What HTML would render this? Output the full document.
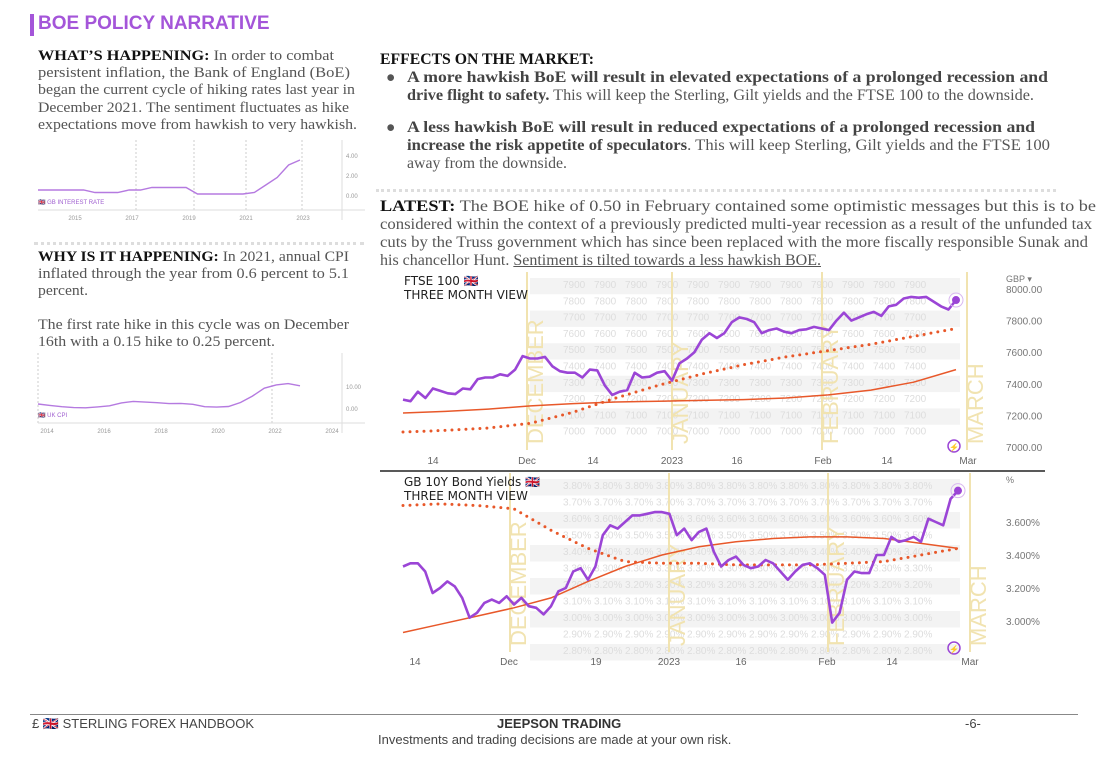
<!DOCTYPE html>
<html><head><meta charset="utf-8"><style>
body{margin:0;width:1108px;height:776px;background:#fff;position:relative;overflow:hidden;font-family:"Liberation Serif",serif;color:#555}
.abs{position:absolute}
.p{font-size:15px;line-height:17.2px;color:#555;white-space:nowrap;font-family:"Liberation Serif",serif}
.r{font-size:15.5px;line-height:18.1px}
.p b{color:#111}
.ln{display:block;width:max-content;transform-origin:0 0}
.dots{position:absolute;height:0;border-top:3px dotted #ddd}
.sans{font-family:"Liberation Sans",sans-serif}
</style></head><body>
<div class="abs" style="left:30px;top:14px;width:4px;height:22px;background:#a455d9"></div>
<div class="abs sans" style="left:38px;top:13px;font-size:19px;font-weight:bold;color:#a455d9">BOE POLICY NARRATIVE</div>

<div class="abs p" style="left:38px;top:48px">
<span class="ln" data-w="296"><b>WHAT’S HAPPENING:</b> In order to combat</span>
<span class="ln" data-w="312">persistent inflation, the Bank of England (BoE)</span>
<span class="ln" data-w="317">began the current cycle of hiking rates last year in</span>
<span class="ln" data-w="311">December 2021. The sentiment fluctuates as hike</span>
<span class="ln" data-w="319">expectations move from hawkish to very hawkish.</span></div>

<svg class="abs" style="left:30px;top:140px" width="340" height="82" id="mini1"></svg>
<div class="dots" style="left:34px;top:242px;width:330px"></div>

<div class="abs p" style="left:38px;top:249px">
<span class="ln" data-w="311"><b>WHY IS IT HAPPENING:</b> In 2021, annual CPI</span>
<span class="ln" data-w="311">inflated through the year from 0.6 percent to 5.1</span>
<span class="ln" data-w="50">percent.</span></div>
<div class="abs p" style="left:38px;top:317px">
<span class="ln" data-w="311">The first rate hike in this cycle was on December</span>
<span class="ln" data-w="237">16th with a 0.15 hike to 0.25 percent.</span></div>
<svg class="abs" style="left:30px;top:353px" width="340" height="82" id="mini2"></svg>

<div class="abs p r" style="left:380px;top:51px"><span class="ln" data-w="214"><b>EFFECTS ON THE MARKET:</b></span></div>
<div class="abs p r" style="left:386px;top:69px">●</div>
<div class="abs p r" style="left:407px;top:69px">
<span class="ln" data-w="641"><b style="color:#444">A more hawkish BoE will result in elevated expectations of a prolonged recession and</b></span>
<span class="ln" data-w="627"><b style="color:#444">drive flight to safety.</b> This will keep the Sterling, Gilt yields and the FTSE 100 to the downside.</span></div>
<div class="abs p r" style="left:386px;top:119px">●</div>
<div class="abs p r" style="left:407px;top:119px">
<span class="ln" data-w="628"><b style="color:#444">A less hawkish BoE will result in reduced expectations of a prolonged recession and</b></span>
<span class="ln" data-w="643"><b style="color:#444">increase the risk appetite of speculators</b>. This will keep Sterling, Gilt yields and the FTSE 100</span>
<span class="ln" data-w="160">away from the downside.</span></div>
<div class="dots" style="left:376px;top:189px;width:680px"></div>
<div class="abs p r" style="left:380px;top:198px">
<span class="ln" data-w="716"><b>LATEST:</b> The BOE hike of 0.50 in February contained some optimistic messages but this is to be</span>
<span class="ln" data-w="712">considered within the context of a previously predicted multi-year recession as a result of the unfunded tax</span>
<span class="ln" data-w="708">cuts by the Truss government which has since been replaced with the more fiscally responsible Sunak and</span>
<span class="ln" data-w="441">his chancellor Hunt. <u>Sentiment is tilted towards a less hawkish BOE.</u></span></div>

<svg class="abs" style="left:0;top:0" width="1108" height="776" id="big"></svg>

<div class="abs" style="left:30px;top:714px;width:1048px;height:1px;background:#888"></div>
<div class="abs sans" style="left:32px;top:716px;font-size:13px;color:#444">£ 🇬🇧 STERLING FOREX HANDBOOK</div>
<div class="abs sans" style="left:497px;top:716px;font-size:13px;font-weight:bold;color:#333">JEEPSON TRADING</div>
<div class="abs sans" style="left:965px;top:716px;font-size:13px;color:#444">-6-</div>
<div class="abs sans" style="left:378px;top:732px;font-size:13px;color:#444">Investments and trading decisions are made at your own risk.</div>

<script>
// FTSE 100 data
const ftseValues=[7300,7290,7350,7310,7370,7355,7340,7335,7370,7365,7430,7440,7440,7460,7450,7490,7575,7560,7560,7570,7510,7480,7470,7470,7440,7490,7485,7390,7330,7350,7360,7470,7440,7445,7470,7480,7420,7530,7560,7600,7680,7720,7690,7720,7790,7820,7810,7790,7720,7740,7750,7730,7720,7740,7745,7760,7750,7740,7800,7850,7800,7820,7840,7855,7830,7890,7900,7940,7950,7945,7950,7920,7890,7870,7930];
const ftseMa=[7215,7225,7240,7260,7275,7285,7290,7295,7300,7310,7330,7360,7410,7490];
const ftseDotted=[7095,7105,7120,7150,7220,7310,7390,7460,7520,7570,7610,7650,7700,7750];
const ftseTicks=[7000,7200,7400,7600,7800,8000];
const ftseXLabels=["14","Dec","14","2023","16","Feb","14","Mar"];
// Bond yield data
const bondValues=[3.33,3.35,3.35,3.30,3.17,3.20,3.24,3.21,3.14,3.02,3.05,3.11,3.13,3.11,3.15,3.10,3.14,3.09,3.08,3.04,3.09,3.18,3.20,3.30,3.32,3.25,3.33,3.52,3.58,3.56,3.60,3.64,3.64,3.65,3.66,3.66,3.65,3.52,3.56,3.49,3.54,3.56,3.42,3.33,3.37,3.39,3.34,3.32,3.33,3.37,3.35,3.30,3.25,3.30,3.34,3.35,3.32,3.28,2.99,3.05,3.25,3.30,3.29,3.29,3.40,3.40,3.51,3.48,3.49,3.51,3.48,3.62,3.60,3.58,3.74,3.79];
const bondMa=[2.93,2.98,3.03,3.08,3.14,3.24,3.33,3.40,3.45,3.48,3.50,3.51,3.51,3.50,3.47,3.44];
const bondDotted=[3.70,3.71,3.70,3.68,3.55,3.44,3.36,3.35,3.35,3.34,3.34,3.34,3.35,3.36,3.40,3.44];
const bondTicks=[3.0,3.2,3.4,3.6];
const bondXLabels=["14","Dec","19","2023","16","Feb","14","Mar"];
// mini charts
const rateValues=[0.5,0.5,0.5,0.5,0.5,0.25,0.25,0.25,0.5,0.5,0.75,0.75,0.75,0.75,0.1,0.1,0.1,0.1,0.1,0.25,1.0,1.75,3.0,3.5];
const cpiValues=[1.8,1.2,0.6,0.2,0.1,0.5,1.0,2.3,3.0,2.7,2.4,2.0,2.1,1.7,0.6,0.4,0.7,2.5,5.4,9.0,10.5,11.1,10.1];

// fit text lines to measured widths
document.querySelectorAll('.ln').forEach(el=>{const w=el.getBoundingClientRect().width;const t=+el.dataset.w;if(w>0)el.style.transform='scaleX('+(t/w).toFixed(4)+')';});

const NS="http://www.w3.org/2000/svg";
function mk(parent,tag,attrs){const e=document.createElementNS(NS,tag);for(const k in attrs)e.setAttribute(k,attrs[k]);parent.appendChild(e);return e;}
function txt(parent,x,y,s,attrs){const t=mk(parent,'text',Object.assign({x:x,y:y},attrs));t.textContent=s;return t;}
const big=document.getElementById('big');

function drawPanel(cfg){
  const g=mk(big,'g',{});
  
  
  const y=cfg.y;
  for(let k=0;k<cfg.stripeN;k+=2){mk(g,'rect',{x:530,y:cfg.top+6+k*cfg.stripeH,width:430,height:cfg.stripeH,fill:'#f3f3f3'});}
  for(let k=0;k<cfg.stripeN;k++){for(let c=0;c<12;c++){txt(g,563+c*31,cfg.top+16+k*cfg.stripeH,cfg.gridLbl[k],{'font-size':10,fill:'#ddd','font-family':'Liberation Sans,sans-serif'});}}
  cfg.months.forEach(m=>{mk(g,'line',{x1:m[0],x2:m[0],y1:cfg.top,y2:cfg.bot,stroke:'#f1e3b0','stroke-width':2});
    txt(g,0,0,m[1],{'font-size':22,fill:'#f1e3b0','font-family':'Liberation Sans,sans-serif',transform:`translate(${m[0]+16},${cfg.bot-6}) rotate(-90)`});});
  cfg.ticks.forEach(v=>{const t=txt(g,1006,y(v)+4,cfg.fmt(v),{'font-size':10,fill:'#777','font-family':'Liberation Sans,sans-serif'});});
  cfg.xl.forEach((s,i)=>{const t=txt(g,cfg.xpos[i],cfg.xy,s,{'font-size':10,fill:'#666','text-anchor':'middle','font-family':'Liberation Sans,sans-serif'});});
  const path=(arr)=>arr.map((v,i)=>(i?'L':'M')+(cfg.x0+(cfg.x1-cfg.x0)*i/(arr.length-1)).toFixed(1)+','+y(v).toFixed(1)).join('');
  const ma=mk(g,'path',{d:path(cfg.ma),fill:'none',stroke:'#e8582a','stroke-width':1.5});
  
  const dt=mk(g,'path',{d:path(cfg.dot),fill:'none',stroke:'#e8582a','stroke-width':3,'stroke-dasharray':'0 7','stroke-linecap':'round'});
  
  const pl=mk(g,'path',{d:path(cfg.vals),fill:'none',stroke:'#9b45d6','stroke-width':2.6,'stroke-linejoin':'round'});
  
  const last=cfg.vals[cfg.vals.length-1];
  mk(g,'circle',{cx:cfg.x1,cy:y(last),r:4,fill:'#9b45d6'});
  mk(g,'circle',{cx:cfg.x1,cy:y(last),r:7,fill:'none',stroke:'#d9b8f0','stroke-width':1});
  mk(g,'circle',{cx:954,cy:cfg.bot-4,r:6,fill:'none',stroke:'#9b45d6','stroke-width':1.5});
  txt(g,954,cfg.bot,'⚡',{'font-size':8,fill:'#9b45d6','text-anchor':'middle'});
  txt(g,404,cfg.top+13,cfg.t1,{'font-size':12,fill:'#222','font-family':'DejaVu Sans,sans-serif'});
  txt(g,404,cfg.top+27,'THREE MONTH VIEW',{'font-size':12,fill:'#222','font-family':'DejaVu Sans,sans-serif'});
  txt(g,1006,cfg.top+10,cfg.unit,{'font-size':9,fill:'#777','font-family':'Liberation Sans,sans-serif'});
}
drawPanel({name:'ftse-100-chart',x0:403,x1:956,n:ftseValues.length,vals:ftseValues,ma:ftseMa,dot:ftseDotted,
  y:v=>289+(8000-v)*0.158,ticks:ftseTicks,fmt:v=>v.toFixed(2),top:272,bot:450,stripeN:10,stripeH:16.3,
  gridLbl:['7900','7800','7700','7600','7500','7400','7300','7200','7100','7000'],
  months:[[527,'DECEMBER'],[672,'JANUARY'],[822,'FEBRUARY'],[967,'MARCH']],
  xl:ftseXLabels,xpos:[433,527,593,672,737,823,887,968],xy:464,t1:'FTSE 100 🇬🇧',unit:'GBP ▾'});
mk(big,'line',{x1:380,x2:1045,y1:471,y2:471,stroke:'#222','stroke-width':1.5});
drawPanel({name:'gb-10y-bond-yield-chart',x0:403,x1:958,n:bondValues.length,vals:bondValues,ma:bondMa,dot:bondDotted,
  y:v=>522+(3.6-v)*165,ticks:bondTicks,fmt:v=>v.toFixed(3)+'%',top:473,bot:652,stripeN:11,stripeH:16.5,
  gridLbl:['3.80%','3.70%','3.60%','3.50%','3.40%','3.30%','3.20%','3.10%','3.00%','2.90%','2.80%'],
  months:[[510,'DECEMBER'],[669,'JANUARY'],[828,'FEBRUARY'],[970,'MARCH']],
  xl:bondXLabels,xpos:[415,509,596,669,741,827,892,970],xy:665,t1:'GB 10Y Bond Yields 🇬🇧',unit:'%'});

function mini(id,vals,ymap,ticks,years,label,grid){
  const s=document.getElementById(id);
  grid.forEach(x=>mk(s,'line',{x1:x,x2:x,y1:0,y2:72,stroke:'#ccc','stroke-dasharray':'2 2'}));
  mk(s,'line',{x1:8,x2:335,y1:70,y2:70,stroke:'#ddd'});
  mk(s,'line',{x1:312,x2:312,y1:0,y2:80,stroke:'#ddd'});
  const d=vals.map((v,i)=>(i?'L':'M')+(8+(270-8)*i/(vals.length-1)).toFixed(1)+','+ymap(v).toFixed(1)).join('');
  const p=mk(s,'path',{d:d,fill:'none',stroke:'#b57ae0','stroke-width':1.4});
  
  ticks.forEach(v=>txt(s,316,ymap(v)+3,v.toFixed(2),{'font-size':6,fill:'#999','font-family':'Liberation Sans,sans-serif'}));
  years.forEach((yr,i)=>txt(s,years.length==5?45+i*57:17+i*57,80,yr,{'font-size':6,fill:'#999','text-anchor':'middle','font-family':'Liberation Sans,sans-serif'}));
  txt(s,8,64,'🇬🇧 '+label,{'font-size':6,fill:'#a060d0','font-family':'Liberation Sans,sans-serif'});
}
mini('mini1',rateValues,v=>55-v*10,[0,2,4],['2015','2017','2019','2021','2023'],'GB INTEREST RATE',[106,164,216,272]);
mini('mini2',cpiValues,v=>55-v*2.2,[0,10],['2014','2016','2018','2020','2022','2024'],'UK CPI',[8,242]);
</script>
</body></html>
